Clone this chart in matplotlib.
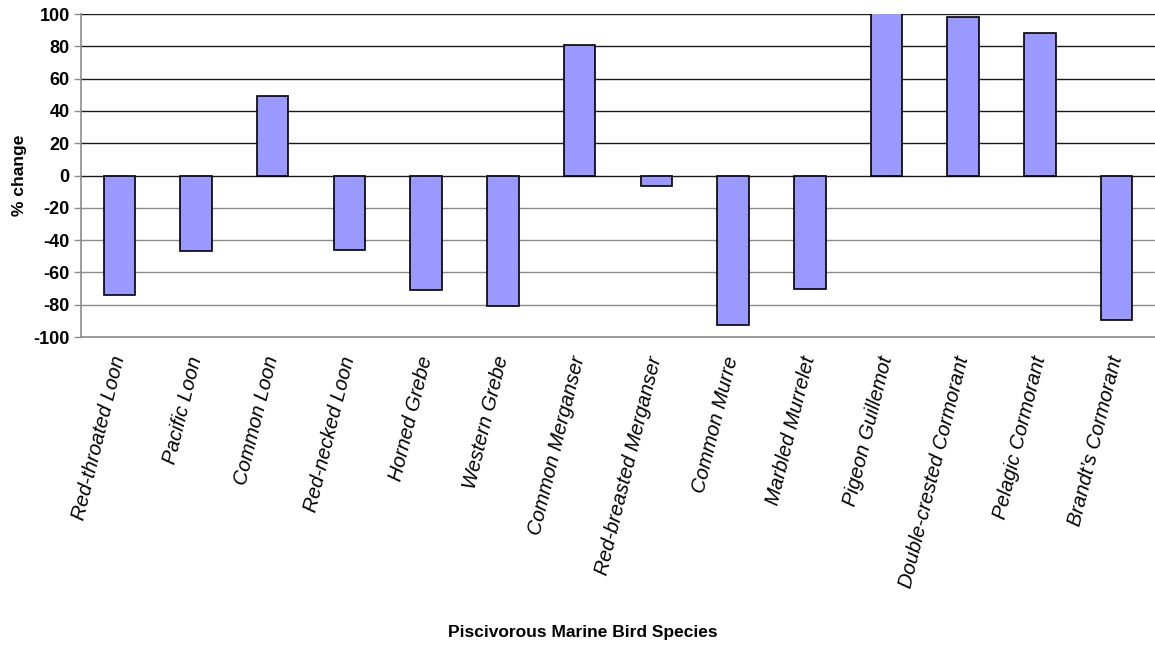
import numpy as np
import matplotlib.pyplot as plt

species = ['Red-throated Loon', 'Pacific Loon', 'Common Loon', 'Red-necked Loon',
           'Horned Grebe', 'Western Grebe', 'Common Merganser',
           'Red-breasted Merganser', 'Common Murre', 'Marbled Murrelet',
           'Pigeon Guillemot', 'Double-crested Cormorant', 'Pelagic Cormorant',
           'Brandt\u2019s Cormorant']
pct_change = [-74, -47, 49, -46, -71, -81, 81, -6.5, -92.5, -70.5, 104, 98, 88, -89.5]
y_ticks = list(range(-100, 101, 20))

plt.rcParams['font.family'] = ['Liberation Sans', 'DejaVu Sans']

fig = plt.figure(figsize=(11.55, 6.52), dpi=100)
ax = fig.add_axes([0.0701, 0.483, 0.9299, 0.4955])

x = np.arange(len(species))
ax.bar(x, pct_change, width=0.41, color='#9999FF', edgecolor='black',
       linewidth=1.2, zorder=3)

ax.set_xlim(-0.5, len(species) - 0.5)
ax.set_ylim(-100, 100)
ax.set_yticks(y_ticks)
ax.set_yticklabels([str(v) for v in y_ticks], fontweight='bold', fontsize=13)

# horizontal gridlines: dark above zero, grey below
ax.yaxis.grid(True, linewidth=1.0, zorder=0)
for v, gl in zip(y_ticks, ax.get_ygridlines()):
    gl.set_color('#1a1a1a' if v >= 0 else '#8c8c8c')

ax.set_xticks(x)
ax.set_xticklabels(species, rotation=76, ha='right', va='center',
                   rotation_mode='anchor', fontstyle='italic', fontsize=14.5)
ax.tick_params(axis='x', length=0, pad=14)
ax.tick_params(axis='y', length=5, width=1, color='#8c8c8c', pad=3)

for side in ['top', 'right']:
    ax.spines[side].set_visible(False)
ax.spines['left'].set_color('#8c8c8c')
ax.spines['bottom'].set_color('#8c8c8c')
ax.spines['left'].set_linewidth(1.2)
ax.spines['bottom'].set_linewidth(1.2)

ax.set_ylabel('% change', fontweight='bold', fontsize=12.5)
ax.yaxis.set_label_coords(-0.0505, 0.5)
fig.text(0.505, 0.018, 'Piscivorous Marine Bird Species', ha='center',
         va='bottom', fontweight='bold', fontsize=12.5)

fig.savefig('out.png', dpi=100)
